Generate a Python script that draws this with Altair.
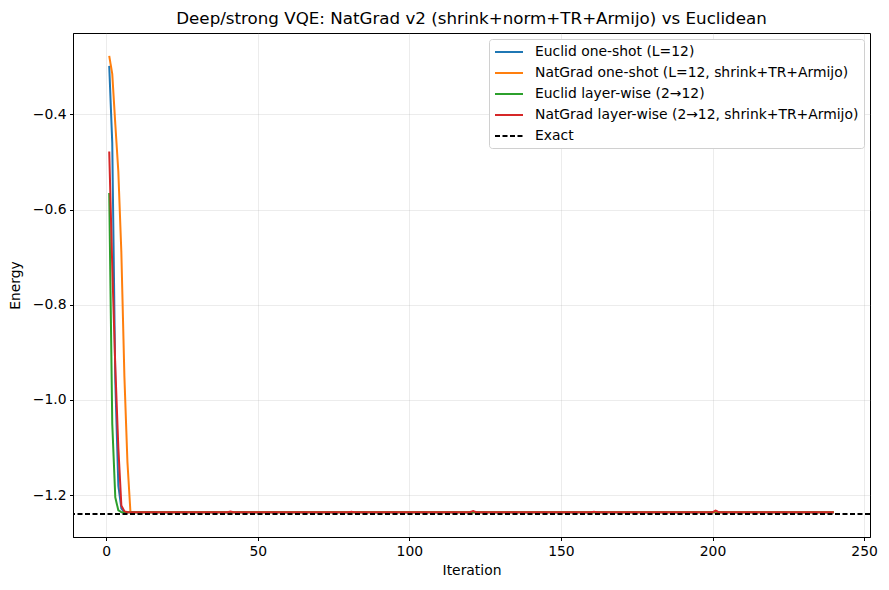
import altair as alt
import pandas as pd

# ---- data ----
S_EUC_ONE = "Euclid one-shot (L=12)"
S_NAT_ONE = "NatGrad one-shot (L=12, shrink+TR+Armijo)"
S_EUC_LAY = "Euclid layer-wise (2→12)"
S_NAT_LAY = "NatGrad layer-wise (2→12, shrink+TR+Armijo)"
S_EXACT = "Exact"

series_names = [S_EUC_ONE, S_NAT_ONE, S_EUC_LAY, S_NAT_LAY, S_EXACT]
series_colors = ["#1f77b4", "#ff7f0e", "#2ca02c", "#d62728", "#000000"]

euc_one_iter = [1, 2, 3, 4, 5, 6, 240]
euc_one_E = [-0.298, -0.46, -0.96, -1.18, -1.228, -1.236, -1.236]

nat_one_iter = [1, 2, 3, 4, 5, 6, 7, 8, 240]
nat_one_E = [-0.277, -0.315, -0.42, -0.52, -0.69, -0.95, -1.13, -1.236, -1.236]

euc_lay_iter = [1, 2, 3, 4, 5, 200, 201, 202, 240]
euc_lay_E = [-0.565, -1.05, -1.205, -1.232, -1.236, -1.236, -1.2345, -1.236, -1.236]

nat_lay_iter = [1, 2, 3, 4, 5, 6, 7,
                40, 41, 42, 80, 81, 82, 120, 121, 122,
                160, 161, 162, 200, 201, 202, 240]
nat_lay_E = [-0.478, -0.72, -0.93, -1.10, -1.222, -1.234, -1.236,
             -1.236, -1.2345, -1.236, -1.236, -1.2352, -1.236,
             -1.236, -1.2335, -1.236, -1.236, -1.2352, -1.236,
             -1.236, -1.2325, -1.236, -1.236]

exact_E = -1.24
iter_min, iter_max = 1, 240

x_ticks = [0, 50, 100, 150, 200, 250]
y_ticks = [-1.2, -1.0, -0.8, -0.6, -0.4]

# ---- build table ----
rows = []
for name, its, es in [(S_EUC_ONE, euc_one_iter, euc_one_E),
                      (S_NAT_ONE, nat_one_iter, nat_one_E),
                      (S_EUC_LAY, euc_lay_iter, euc_lay_E),
                      (S_NAT_LAY, nat_lay_iter, nat_lay_E)]:
    for i, e in zip(its, es):
        rows.append({"iter": i, "E": e, "series": name})
df = pd.DataFrame(rows)
exact_df = pd.DataFrame({"E": [exact_E], "series": [S_EXACT]})

# matplotlib-like 5% margins
all_E = list(df["E"]) + [exact_E]
ymin, ymax = min(all_E), max(all_E)
ypad = 0.05 * (ymax - ymin)
xpad = 0.05 * (iter_max - iter_min)
xdom = [iter_min - xpad, iter_max + xpad]
ydom = [ymin - ypad, ymax + ypad]

FONT = "DejaVu Sans"
minus_expr = "replace(datum.label, '-', '\u2212')"

color_enc = alt.Color("series:N",
                      scale=alt.Scale(domain=series_names, range=series_colors),
                      legend=alt.Legend(title=None))
dash_enc = alt.StrokeDash("series:N",
                          scale=alt.Scale(domain=series_names,
                                          range=[[1, 0], [1, 0], [1, 0], [1, 0], [5, 2.5]]),
                          legend=alt.Legend(title=None))
width_enc = alt.StrokeWidth("series:N",
                            scale=alt.Scale(domain=series_names, range=[2, 2, 2, 2, 1.4]),
                            legend=alt.Legend(title=None))

x_enc = alt.X("iter:Q",
              scale=alt.Scale(domain=xdom, nice=False, zero=False),
              axis=alt.Axis(title="Iteration", values=x_ticks, format="d",
                            labelExpr=minus_expr, titlePadding=6))
y_enc = alt.Y("E:Q",
              scale=alt.Scale(domain=ydom, nice=False, zero=False),
              axis=alt.Axis(title="Energy", values=y_ticks, format=".1f",
                            labelExpr=minus_expr, titlePadding=10))

base = alt.Chart(df).encode(x=x_enc, y=y_enc, color=color_enc,
                            strokeDash=dash_enc, strokeWidth=width_enc)

layers = []
for name in [S_EUC_ONE, S_NAT_ONE, S_EUC_LAY, S_NAT_LAY]:
    layers.append(base.transform_filter(alt.datum.series == name).mark_line())

exact_rule = alt.Chart(exact_df).mark_rule().encode(
    y=alt.Y("E:Q"), color=color_enc, strokeDash=dash_enc, strokeWidth=width_enc)

chart = alt.layer(*layers, exact_rule).properties(
    width=797, height=504,
    autosize=alt.AutoSizeParams(type="none"),
    padding={"left": 65, "top": 25, "right": 10, "bottom": 45},
    title=alt.TitleParams("Deep/strong VQE: NatGrad v2 (shrink+norm+TR+Armijo) vs Euclidean",
                          font=FONT, fontSize=16.7, fontWeight="normal",
                          anchor="middle", offset=5, color="black"),
).configure_view(
    stroke="black", strokeWidth=1
).configure_axis(
    labelFont=FONT, titleFont=FONT, labelFontSize=13.9, titleFontSize=13.9,
    titleFontWeight="normal", labelColor="black", titleColor="black",
    domainColor="black", domainWidth=1, tickColor="black", tickSize=3.5,
    tickWidth=1, labelPadding=3.5,
    gridColor="#b0b0b0", gridOpacity=0.3, gridWidth=0.8,
).configure_legend(
    orient="top-right", offset=6, padding=5,
    fillColor="white", strokeColor="#d0d0d0", cornerRadius=3,
    labelFont=FONT, labelFontSize=13.9, labelColor="black", labelLimit=500,
    symbolType="M-1,0L3,0", symbolSize=196, labelOffset=25, rowPadding=6,
)

chart.save("out.html", embed_options={"renderer": "svg", "actions": False})
